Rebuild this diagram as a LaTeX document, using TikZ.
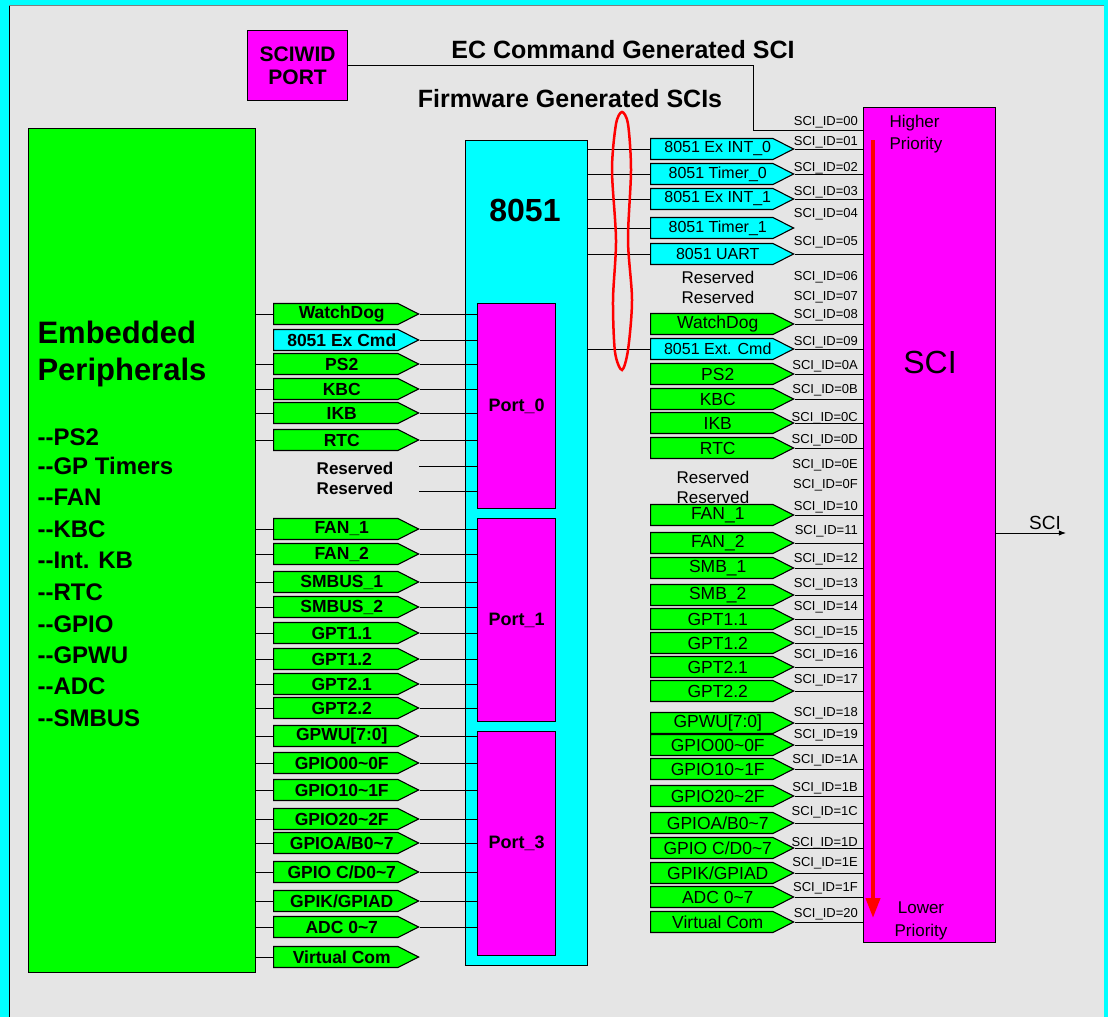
\documentclass[tikz,border=0pt]{standalone}
\usepackage{fontspec}
\setmainfont{Liberation Sans}
\usepackage{tikz}
\usetikzlibrary{shapes.symbols,arrows.meta,calc}

\definecolor{bggray}{RGB}{229,229,229}
\definecolor{sgreen}{RGB}{0,255,0}
\definecolor{scyan}{RGB}{0,255,255}
\definecolor{smag}{RGB}{255,0,255}
\newcommand{\fs}[1]{\fontsize{#1}{#1}\selectfont}

\begin{document}
\begin{tikzpicture}[x=1pt,y=-1pt,>=Latex,
	box/.style={draw=black,line width=1.2pt,inner sep=0pt},
	sig/.style={signal,signal to=east,draw=black,line width=1.1pt,inner sep=0pt,
		minimum height=21pt,anchor=west,signal pointer angle=54,
		execute at begin node={\hspace*{12pt}}},
	lsig/.style={sig,fill=sgreen,minimum width=145pt,font=\fs{17.5}\bfseries},
	lcy/.style={lsig,fill=scyan},
	rgr/.style={sig,fill=sgreen,minimum width=143pt,font=\fs{17.5}},
	rcy/.style={sig,fill=scyan,minimum width=143pt,font=\fs{16}},
	wire/.style={line width=0.9pt},
	idlab/.style={anchor=east,font=\fs{13},inner sep=0pt},
	]
	% 背景
	\useasboundingbox (0,0) rectangle (1108,1017);
	\fill[scyan] (0,0) rectangle (1108,1017);
	\fill[bggray] (9,5) rectangle (1104,1017);
	\draw[line width=1pt] (9,5) -- (9,1017);
	\draw[line width=0.6pt,gray] (9,5) -- (1104,5);
	
	% 标题
	\node[font=\fs{25}\bfseries] (ectitle) at (623,50) {EC Command Generated SCI};
	\node[font=\fs{25}\bfseries] (fwtitle) at (570,99) {Firmware Generated SCIs};
	
	% 方框
	\node[box,fill=smag,minimum width=100pt,minimum height=70pt,anchor=north west,
		align=center,font=\fs{21}\bfseries] (sciwid) at (247,30) {SCIWID\\[2pt]PORT};
	\node[box,fill=sgreen,minimum width=227pt,minimum height=844pt,anchor=north west] (emb) at (28,128) {};
	\node[box,fill=scyan,minimum width=122pt,minimum height=825pt,anchor=north west] (mcu) at (465,140) {};
	\node[font=\fs{32}\bfseries] (mcuT) at (525,210) {8051};
	\node[box,fill=smag,minimum width=78pt,minimum height=205pt,anchor=north west,font=\fs{18}\bfseries] (port0) at (477,303) {Port\_0};
	\node[box,fill=smag,minimum width=78pt,minimum height=203pt,anchor=north west,font=\fs{18}\bfseries] (port1) at (477,518) {Port\_1};
	\node[box,fill=smag,minimum width=78pt,minimum height=224pt,anchor=north west,font=\fs{18}\bfseries] (port3) at (477,731) {Port\_3};
	\node[box,fill=smag,minimum width=132pt,minimum height=835pt,anchor=north west] (sci) at (863,107) {};
	
	% 文字
	\node[anchor=west,font=\fs{31}\bfseries] (embA) at (34,332) {Embedded};
	\node[anchor=west,font=\fs{31}\bfseries] (embB) at (34,372) {Peripherals};
	\foreach \nm/\txt/\y in {a/PS2/437, b/GP Timers/466, c/FAN/497, d/KBC/529, e/Int. KB/560,
		f/RTC/592, g/GPIO/624, h/GPWU/655, i/ADC/686, j/SMBUS/718}
	\node[anchor=west,font=\fs{24}\bfseries] (emb\nm) at (34,\y) {-{}-\txt};
	\node[font=\fs{32}] (sciT) at (930,362) {SCI};
	\node[anchor=west,font=\fs{17}] (hiA) at (886,123) {Higher};
	\node[anchor=west,font=\fs{17}] (hiB) at (886,145) {Priority};
	\node[font=\fs{17}] (loA) at (921,908) {Lower};
	\node[font=\fs{17}] (loB) at (921,932) {Priority};
	
	% EC 命令
	\coordinate (ecA) at (753,130);
	\draw[wire] (sciwid.east) -| (ecA) -- (ecA -| sci.west);
	
	% 左侧信号
	\node[lcy] (Lcmd) at (273,340) {8051 Ex Cmd};
	\draw[wire] (Lcmd.east) -- (Lcmd.east -| port0.west);
	\foreach \nm/\txt/\y/\pt in {wd/WatchDog/314/port0, ps/PS2/364/port0, kbc/KBC/389/port0,
		ikb/IKB/413/port0, rtc/RTC/440/port0,
		fa/{FAN\_1}/529/port1, fb/{FAN\_2}/554/port1, sa/{SMBUS\_1}/582/port1, sb/{SMBUS\_2}/607/port1,
		ga/GPT1.1/633/port1, gb/GPT1.2/659/port1, gc/GPT2.1/684/port1, gd/GPT2.2/708/port1,
		wu/{GPWU[7:0]}/736/port3, io0/{GPIO00\textasciitilde0F}/763/port3,
		io1/{GPIO10\textasciitilde1F}/790/port3, io2/{GPIO20\textasciitilde2F}/819/port3,
		ioab/{GPIOA/B0\textasciitilde7}/843/port3, iocd/{GPIO C/D0\textasciitilde7}/872/port3,
		gpik/{GPIK/GPIAD}/901/port3, adc/{ADC 0\textasciitilde7}/927/port3}
	{
		\node[lsig] (L\nm) at (273,\y) {\txt};
		\draw[wire] (emb.east |- L\nm.west) -- (L\nm.west);
		\draw[wire] (L\nm.east) -- (L\nm.east -| \pt.west);
	}
	\node[lsig] (Lvc) at (273,957) {Virtual Com};
	\draw[wire] (emb.east |- Lvc.west) -- (Lvc.west);
	\node[font=\fs{17}\bfseries] (resA) at (355,468) {Reserved};
	\node[font=\fs{17}\bfseries] (resB) at (355,488) {Reserved};
	\coordinate (resAe) at (419,466);
	\coordinate (resBe) at (419,491);
	\draw[wire] (resAe) -- (resAe -| port0.west);
	\draw[wire] (resBe) -- (resBe -| port0.west);
	
	% 右侧信号
	\node[rcy] (R04) at (650,228) {8051 Timer\_1};
	\foreach \nm/\txt/\y/\st in {01/{8051 Ex INT\_0}/149/rcy, 02/{8051 Timer\_0}/174/rcy,
		03/{8051 Ex INT\_1}/199/rcy, 05/{8051 UART}/254/rcy,
		08/WatchDog/324/rgr, 09/{8051 Ext. Cmd}/349/rcy, 0A/PS2/374/rgr, 0B/KBC/399/rgr,
		0C/IKB/423/rgr, 0D/RTC/448/rgr, 10/{FAN\_1}/515/rgr, 11/{FAN\_2}/543/rgr,
		12/{SMB\_1}/568/rgr, 13/{SMB\_2}/595/rgr, 14/GPT1.1/619/rgr, 15/GPT1.2/643/rgr,
		16/GPT2.1/667/rgr, 17/GPT2.2/691/rgr, 18/{GPWU[7:0]}/723/rgr,
		19/{GPIO00\textasciitilde0F}/745/rgr, 1A/{GPIO10\textasciitilde1F}/769/rgr,
		1B/{GPIO20\textasciitilde2F}/796/rgr, 1C/{GPIOA/B0\textasciitilde7}/823/rgr,
		1D/{GPIO C/D0\textasciitilde7}/848/rgr, 1E/{GPIK/GPIAD}/873/rgr,
		1F/{ADC 0\textasciitilde7}/897/rgr, 20/{Virtual Com}/922/rgr}
	{
		\node[\st] (R\nm) at (650,\y) {\txt};
		\draw[wire] (R\nm.east) -- (R\nm.east -| sci.west);
	}
	\foreach \nm in {01,02,03,04,05,09}
	\draw[wire] (mcu.east |- R\nm.west) -- (R\nm.west);
	\node[font=\fs{17}] (resC) at (718,277) {Reserved};
	\node[font=\fs{17}] (resD) at (718,297) {Reserved};
	\node[font=\fs{17}] (resE) at (713,477) {Reserved};
	\node[font=\fs{17}] (resF) at (713,497) {Reserved};
	
	% SCI_ID 标签
	\foreach \id/\y in {00/122, 01/142, 02/168, 03/192, 04/214, 05/242, 06/277, 07/297,
		08/315, 09/342, 0A/366, 0B/390, 0C/418, 0D/440, 0E/465, 0F/485, 10/507, 11/531,
		12/559, 13/584, 14/607, 15/632, 16/655, 17/680, 18/713, 19/735, 1A/760, 1B/788,
		1C/812, 1D/843, 1E/863, 1F/888, 20/914}
	\node[idlab] (id\id) at (858,\y) {SCI\_ID=\id};
	
	% 优先级箭头
	\draw[red,line width=4pt,-{Triangle[length=20pt,width=14pt]}] (873,140) -- (873,918);
	
	% 手绘圈
	\draw[red,line width=2.5pt] plot[smooth cycle] coordinates {(622,112) (628,124) (631,170)
		(628,240) (632,300) (628,350) (622,370) (615,352) (613,300) (616,240) (612,170) (616,124)};
	
	% SCI 输出
	\coordinate (sciout) at (1066,533);
	\draw[wire,->] (sci.east |- sciout) -- (sciout) node[pos=0.7,above,font=\fs{19}] (sciL) {SCI};
\end{tikzpicture}
\end{document}
